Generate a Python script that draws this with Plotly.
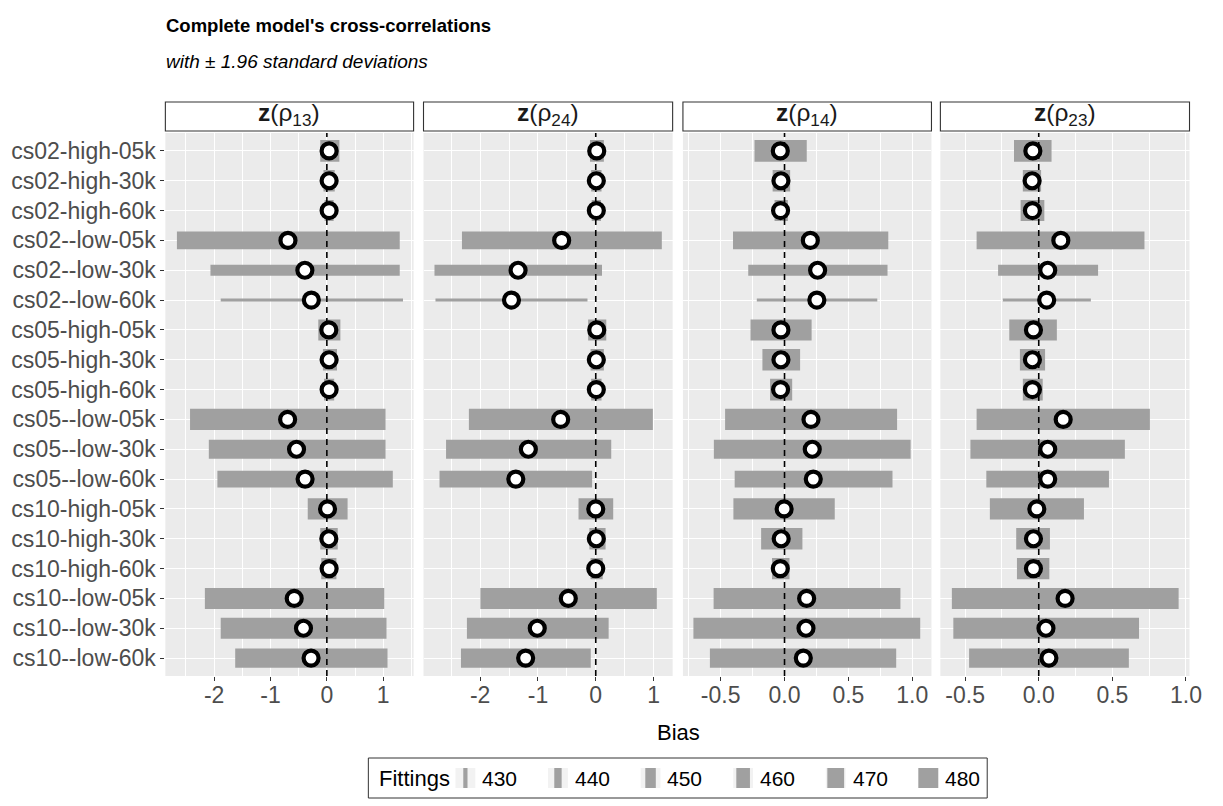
import plotly.graph_objects as go

categories = ["cs02-high-05k", "cs02-high-30k", "cs02-high-60k",
              "cs02--low-05k", "cs02--low-30k", "cs02--low-60k",
              "cs05-high-05k", "cs05-high-30k", "cs05-high-60k",
              "cs05--low-05k", "cs05--low-30k", "cs05--low-60k",
              "cs10-high-05k", "cs10-high-30k", "cs10-high-60k",
              "cs10--low-05k", "cs10--low-30k", "cs10--low-60k"]

fittings = [485, 485, 483, 472, 451, 426, 483, 485, 485,
            484, 477, 469, 484, 484, 484, 483, 483, 477]

facets = ["<b>z</b>(ρ<sub>13</sub>)", "<b>z</b>(ρ<sub>24</sub>)",
          "<b>z</b>(ρ<sub>14</sub>)", "<b>z</b>(ρ<sub>23</sub>)"]

# facet 1: z(rho13)
mean_13 = [0.04, 0.04, 0.04, -0.69, -0.39, -0.275, 0.035, 0.04, 0.04,
           -0.696, -0.538, -0.386, 0.012, 0.035, 0.04, -0.579, -0.415, -0.28]
lo_13 = [-0.117, -0.06, -0.04, -2.66, -2.065, -1.883, -0.152, -0.07, -0.05,
         -2.427, -2.094, -1.942, -0.339, -0.117, -0.1, -2.164, -1.883, -1.626]
hi_13 = [0.222, 0.14, 0.12, 1.293, 1.293, 1.351, 0.240, 0.18, 0.13,
         1.041, 1.041, 1.170, 0.368, 0.193, 0.17, 1.018, 1.058, 1.076]

# facet 2: z(rho24)
mean_24 = [0.017, 0.01, 0.01, -0.59, -1.344, -1.458, 0.017, 0.01, 0.01,
           -0.607, -1.166, -1.383, 0.0, 0.01, 0.0, -0.475, -1.012, -1.213]
lo_24 = [-0.10, -0.08, -0.07, -2.315, -2.79, -2.773, -0.132, -0.09, -0.08,
         -2.195, -2.59, -2.703, -0.298, -0.11, -0.09, -1.996, -2.229, -2.332]
hi_24 = [0.14, 0.10, 0.09, 1.143, 0.108, -0.143, 0.182, 0.14, 0.10,
         0.988, 0.268, -0.063, 0.302, 0.17, 0.12, 1.056, 0.223, -0.086]

# facet 3: z(rho14)
mean_14 = [-0.033, -0.028, -0.031, 0.202, 0.259, 0.253, -0.028, -0.028, -0.031,
           0.207, 0.217, 0.225, -0.003, -0.026, -0.033, 0.173, 0.168, 0.147]
lo_14 = [-0.235, -0.093, -0.078, -0.403, -0.284, -0.217, -0.266, -0.173, -0.113,
         -0.465, -0.553, -0.390, -0.400, -0.183, -0.098, -0.555, -0.713, -0.584]
hi_14 = [0.174, 0.044, 0.026, 0.812, 0.806, 0.726, 0.212, 0.122, 0.060,
         0.881, 0.987, 0.845, 0.393, 0.140, 0.039, 0.907, 1.062, 0.874]

# facet 4: z(rho23)
mean_23 = [-0.040, -0.045, -0.043, 0.150, 0.061, 0.054, -0.036, -0.043, -0.043,
           0.166, 0.061, 0.061, -0.013, -0.036, -0.036, 0.179, 0.049, 0.069]
lo_23 = [-0.168, -0.108, -0.123, -0.422, -0.276, -0.244, -0.200, -0.128, -0.108,
         -0.422, -0.464, -0.356, -0.332, -0.153, -0.148, -0.590, -0.580, -0.473]
hi_23 = [0.087, 0.016, 0.038, 0.718, 0.403, 0.354, 0.123, 0.043, 0.027,
         0.755, 0.585, 0.477, 0.307, 0.076, 0.072, 0.950, 0.681, 0.612]

legend_breaks = [430, 440, 450, 460, 470, 480]

x_tickvals = [[-2, -1, 0, 1], [-2, -1, 0, 1],
              [-0.5, 0.0, 0.5, 1.0], [-0.5, 0.0, 0.5, 1.0]]
x_ticktext = [["-2", "-1", "0", "1"], ["-2", "-1", "0", "1"],
              ["-0.5", "0.0", "0.5", "1.0"], ["-0.5", "0.0", "0.5", "1.0"]]
x_minorvals = [[-2.5, -1.5, -0.5, 0.5, 1.5], [-2.5, -1.5, -0.5, 0.5],
               [-0.75, -0.25, 0.25, 0.75], [-0.25, 0.25, 0.75]]

panel_means = [mean_13, mean_24, mean_14, mean_23]
panel_lo = [lo_13, lo_24, lo_14, lo_23]
panel_hi = [hi_13, hi_24, hi_14, hi_23]

# ---------------- layout geometry ----------------
W, H = 1223, 806
FONT = "Liberation Sans, Arial, sans-serif"
x_ranges = [[-2.865, 1.539], [-2.98, 1.33], [-0.795, 1.150], [-0.668, 1.024]]
x_px = [(167, 417.7), (427.7, 679.3), (689.7, 940.7), (949.7, 1201.3)]
y_top_px, y_bot_px = 133, 676
y_range = [17.6, -0.6]
px_per_row = (y_bot_px - y_top_px) / (y_range[0] - y_range[1])
TICK_SIZE = 23


def thickness_px(f):
    return 3 + (f - 426) * 0.317


def py(p):
    return 1 - p / H


def pxx(p):
    return p / W


fig = go.Figure()
ypos = list(range(len(categories)))
bar_color = "#a0a0a0"

for i in range(4):
    xa = "x" if i == 0 else f"x{i+1}"
    ya = "y" if i == 0 else f"y{i+1}"
    lo, hi, mn = panel_lo[i], panel_hi[i], panel_means[i]
    fig.add_trace(go.Bar(
        y=ypos, x=[h - l for l, h in zip(lo, hi)], base=lo, orientation="h",
        width=[thickness_px(f) / px_per_row for f in fittings],
        marker=dict(color=bar_color, line=dict(width=0)),
        xaxis=xa, yaxis=ya, showlegend=False, hoverinfo="skip"))
    fig.add_trace(go.Scatter(
        x=[0, 0], y=y_range, mode="lines",
        line=dict(color="black", width=1.6, dash="6px,5px"),
        xaxis=xa, yaxis=ya, showlegend=False, hoverinfo="skip"))
    fig.add_trace(go.Scatter(
        x=mn, y=ypos, mode="markers",
        marker=dict(size=15, color="white", line=dict(color="black", width=4.2)),
        xaxis=xa, yaxis=ya, showlegend=False))

    dom_x = [pxx(x_px[i][0]), pxx(x_px[i][1])]
    fig.update_layout(**{
        ("xaxis" if i == 0 else f"xaxis{i+1}"): dict(
            domain=dom_x, range=x_ranges[i],
            tickmode="array", tickvals=x_tickvals[i], ticktext=x_ticktext[i],
            showgrid=True, gridcolor="white", gridwidth=1.2, zeroline=False,
            minor=dict(tickmode="array", tickvals=x_minorvals[i], showgrid=True,
                       gridcolor="white", gridwidth=0.6, ticks=""),
            ticks="outside", ticklen=4, tickcolor="#333333", tickwidth=1,
            ticklabelstandoff=-6,
            tickfont=dict(family=FONT, size=TICK_SIZE, color="#4d4d4d"),
            anchor=ya, showline=False, fixedrange=True),
        ("yaxis" if i == 0 else f"yaxis{i+1}"): dict(
            domain=[py(y_bot_px), py(y_top_px)], range=y_range,
            tickmode="array", tickvals=ypos,
            ticktext=categories if i == 0 else [""] * len(ypos),
            showticklabels=(i == 0),
            showgrid=True, gridcolor="white", gridwidth=1.2, zeroline=False,
            ticks="outside" if i == 0 else "", ticklen=4, tickcolor="#333333",
            tickfont=dict(family=FONT, size=TICK_SIZE, color="#4d4d4d"),
            anchor=xa, showline=False, fixedrange=True),
    })
    # panel background
    fig.add_shape(type="rect", xref="paper", yref="paper", layer="below",
                  x0=dom_x[0], x1=dom_x[1], y0=py(y_bot_px), y1=py(y_top_px),
                  fillcolor="#ebebeb", line=dict(width=0))
    # strip
    fig.add_shape(type="rect", xref="paper", yref="paper",
                  x0=dom_x[0], x1=dom_x[1], y0=py(131), y1=py(102),
                  fillcolor="white", line=dict(color="#333333", width=1.1))
    fig.add_annotation(text=facets[i], xref="paper", yref="paper",
                       x=(dom_x[0] + dom_x[1]) / 2, y=py(114),
                       showarrow=False, xanchor="center", yanchor="middle",
                       font=dict(family=FONT, size=24.5, color="#1a1a1a"))

# ---------------- legend (drawn on a hidden axis) ----------------
leg_x0, leg_x1 = 372, 997
leg_y0, leg_y1 = 758, 798
key_px0 = 470
key_step_px = 93.5
key_half = 10
fig.add_shape(type="rect", xref="paper", yref="paper", layer="below",
              x0=pxx(leg_x0), x1=pxx(leg_x1), y0=py(leg_y1), y1=py(leg_y0),
              fillcolor="white", line=dict(color="#333333", width=1))
fig.add_annotation(text="Fittings", xref="paper", yref="paper",
                   x=pxx(381), y=py(778), xanchor="left", yanchor="middle",
                   showarrow=False, font=dict(family=FONT, size=22, color="black"))
units_per_px = 10 / key_step_px
ax5_x0 = legend_breaks[0] - (key_px0 - leg_x0) * units_per_px
ax5_x1 = legend_breaks[0] + (leg_x1 - key_px0) * units_per_px
for j, b in enumerate(legend_breaks):
    kc = key_px0 + j * key_step_px
    fig.add_shape(type="rect", xref="paper", yref="paper", layer="below",
                  x0=pxx(kc - key_half), x1=pxx(kc + key_half),
                  y0=py(778 + key_half), y1=py(778 - key_half),
                  fillcolor="#f2f2f2", line=dict(width=0))
    fig.add_annotation(text=str(b), xref="paper", yref="paper",
                       x=pxx(kc + key_half + 5), y=py(778), xanchor="left",
                       yanchor="middle", showarrow=False,
                       font=dict(family=FONT, size=21, color="black"))
fig.add_trace(go.Bar(
    x=legend_breaks, y=[1] * len(legend_breaks), base=[0] * len(legend_breaks),
    width=[thickness_px(b) * units_per_px for b in legend_breaks],
    marker=dict(color=bar_color, line=dict(width=0)),
    xaxis="x5", yaxis="y5", showlegend=False, hoverinfo="skip"))
fig.update_layout(
    xaxis5=dict(domain=[pxx(leg_x0), pxx(leg_x1)], range=[ax5_x0, ax5_x1],
                visible=False, anchor="y5", fixedrange=True),
    yaxis5=dict(domain=[py(778 + key_half), py(778 - key_half)], range=[0, 1],
                visible=False, anchor="x5", fixedrange=True),
)

# ---------------- titles ----------------
fig.add_annotation(text="<b>Complete model's cross-correlations</b>", xref="paper",
                   yref="paper", x=pxx(166), y=py(26), xanchor="left",
                   yanchor="middle", showarrow=False,
                   font=dict(family=FONT, size=18.5, color="black"))
fig.add_annotation(text="<i>with ± 1.96 standard deviations</i>", xref="paper",
                   yref="paper", x=pxx(166), y=py(62), xanchor="left",
                   yanchor="middle", showarrow=False,
                   font=dict(family=FONT, size=19, color="black"))
fig.add_annotation(text="Bias", xref="paper", yref="paper",
                   x=pxx(685), y=py(732), xanchor="center", yanchor="middle",
                   showarrow=False, font=dict(family=FONT, size=22, color="black"))

fig.update_layout(
    width=W, height=H, margin=dict(l=0, r=0, t=0, b=0),
    paper_bgcolor="white", plot_bgcolor="rgba(0,0,0,0)",
    barmode="overlay", showlegend=False,
)

fig.write_html("out.html", config={"displayModeBar": False},
               post_script="document.body.style.margin='0';")
